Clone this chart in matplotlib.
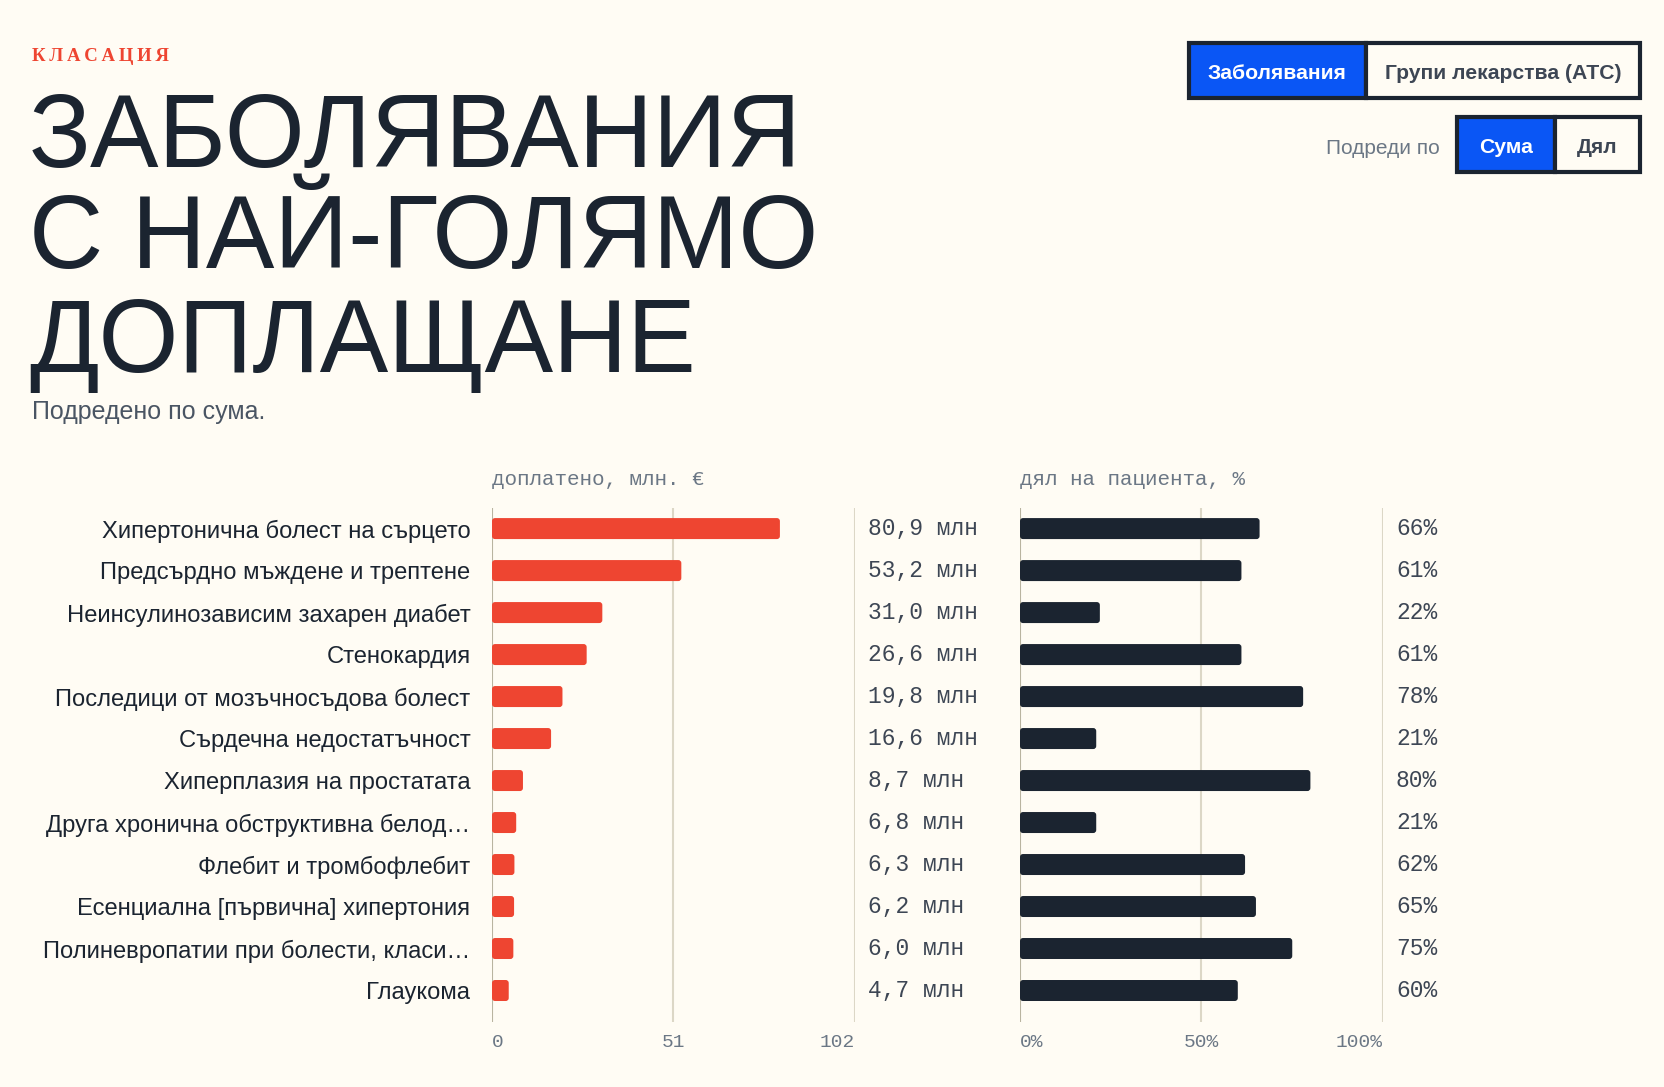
import numpy as np
import matplotlib.pyplot as plt
from matplotlib.patches import Rectangle, FancyBboxPatch
from matplotlib.transforms import blended_transform_factory

# data
diseases = [
    'Хипертонична болест на сърцето',
    'Предсърдно мъждене и трептене',
    'Неинсулинозависим захарен диабет',
    'Стенокардия',
    'Последици от мозъчносъдова болест',
    'Сърдечна недостатъчност',
    'Хиперплазия на простатата',
    'Друга хронична обструктивна белод…',
    'Флебит и тромбофлебит',
    'Есенциална [първична] хипертония',
    'Полиневропатии при болести, класи…',
    'Глаукома',
]
paid_mln = [80.9, 53.2, 31.0, 26.6, 19.8, 16.6, 8.7, 6.8, 6.3, 6.2, 6.0, 4.7]
patient_share = [66, 61, 22, 61, 78, 21, 80, 21, 62, 65, 75, 60]
paid_ticks = [0, 51, 102]
share_ticks = [0, 50, 100]
share_ticklabels = ['0%', '50%', '100%']

BG = '#fffcf4'
DARK = '#1b2430'
RED = '#ee4531'
BLUE = '#0a56f5'
GRAY = '#6b7785'
TXT = '#3d4654'
GRID = '#dcd7c6'
AXIS = '#b9b4a0'

W, H = 1665, 1087
fig = plt.figure(figsize=(W / 100, H / 100), dpi=100, facecolor=BG)


def fx(x):
    return x / W


def fy(y):
    return 1 - y / H


# header
fig.text(fx(32), fy(61), '\u2009'.join('КЛАСАЦИЯ'), color=RED, fontsize=13.5,
         fontweight='bold', family='Liberation Serif', va='baseline')
for line, base in zip(['ЗАБОЛЯВАНИЯ', 'С НАЙ-ГОЛЯМО', 'ДОПЛАЩАНЕ'], [167, 268, 372]):
    fig.text(fx(29), fy(base), line, color=DARK, fontsize=74,
             family='Liberation Sans', va='baseline')
fig.text(fx(32), fy(419), 'Подредено по сума.', color='#4a5563', fontsize=18,
         family='Liberation Sans', va='baseline')


# toggle buttons
def button(x0, x1, y0, y1, label, active):
    fig.add_artist(Rectangle((fx(x0), fy(y1)), fx(x1 - x0), (y1 - y0) / H,
                             transform=fig.transFigure,
                             facecolor=BLUE if active else BG,
                             edgecolor=DARK, linewidth=3))
    fig.text(fx((x0 + x1) / 2), fy((y0 + y1) / 2 + 1), label,
             color='white' if active else TXT, fontsize=15.2, fontweight='bold',
             family='Liberation Sans', ha='center', va='center_baseline')


button(1189, 1366, 43, 98, 'Заболявания', True)
button(1366, 1640, 43, 98, 'Групи лекарства (АТС)', False)
button(1457, 1555, 117, 172, 'Сума', True)
button(1555, 1640, 117, 172, 'Дял', False)
fig.text(fx(1440), fy(146), 'Подреди по', color=GRAY, fontsize=15,
         family='Liberation Sans', ha='right', va='center_baseline')

# axes
y = np.arange(len(diseases))
ax1 = fig.add_axes([fx(492), 1 - 1022 / H, 363 / W, 514 / H])
ax2 = fig.add_axes([fx(1020), 1 - 1022 / H, 363 / W, 514 / H])


def draw_bars(ax, values, color, xmax):
    ax.set_facecolor(BG)
    ax.set_xlim(0, xmax)
    ax.set_ylim(11.75, -0.49)
    bars = ax.barh(y, values, height=0.5, color=color)
    # swap rectangles for rounded ones
    px_x = 363 / xmax
    px_y = 42.0
    r = 3.0
    for b in bars:
        x0, y0 = b.get_x(), b.get_y()
        w, h = b.get_width(), b.get_height()
        b.set_visible(False)
        ax.add_patch(FancyBboxPatch((x0, y0), w, h,
                                    boxstyle=f'round,pad=0,rounding_size={r / px_x}',
                                    mutation_aspect=px_x / px_y,
                                    facecolor=color, edgecolor='none', zorder=3))
    for s in ax.spines.values():
        s.set_visible(False)
    ax.tick_params(left=False, bottom=False)


draw_bars(ax1, paid_mln, RED, 102)
draw_bars(ax2, patient_share, DARK, 100)

for ax, ticks, labels in [(ax1, paid_ticks, [str(t) for t in paid_ticks]),
                          (ax2, share_ticks, share_ticklabels)]:
    ax.set_xticks(ticks)
    ax.set_xticklabels(labels, family='Liberation Mono', fontsize=14, color=GRAY)
    for t, ha in zip(ax.get_xticklabels(), ['left', 'center', 'right']):
        t.set_ha(ha)
    ax.tick_params(axis='x', pad=5)
    for i, t in enumerate(ticks):
        ax.axvline(t, color=AXIS if i == 0 else GRID, linewidth=1.5, zorder=1)

ax1.set_yticks(y)
ax1.set_yticklabels(diseases, family='Liberation Sans', fontsize=17.1, color=DARK)
ax1.tick_params(axis='y', pad=12)
ax2.set_yticks([])

# value labels to the right of each panel
for ax, labels in [(ax1, [f'{v:.1f}'.replace('.', ',') + ' млн' for v in paid_mln]),
                   (ax2, [f'{v}%' for v in patient_share])]:
    tr = blended_transform_factory(ax.transAxes, ax.transData)
    for i, lab in enumerate(labels):
        ax.annotate(lab, xy=(1, i), xycoords=tr, xytext=(13, 0),
                    textcoords='offset pixels', va='center', ha='left',
                    family='Liberation Mono', fontsize=16.5, color=TXT)

# column headers
fig.text(fx(492), fy(479), 'доплатено, млн. €', family='Liberation Mono',
         fontsize=15, color=GRAY, va='center')
fig.text(fx(1020), fy(479), 'дял на пациента, %', family='Liberation Mono',
         fontsize=15, color=GRAY, va='center')

fig.savefig('out.png', dpi=100, facecolor=BG)
